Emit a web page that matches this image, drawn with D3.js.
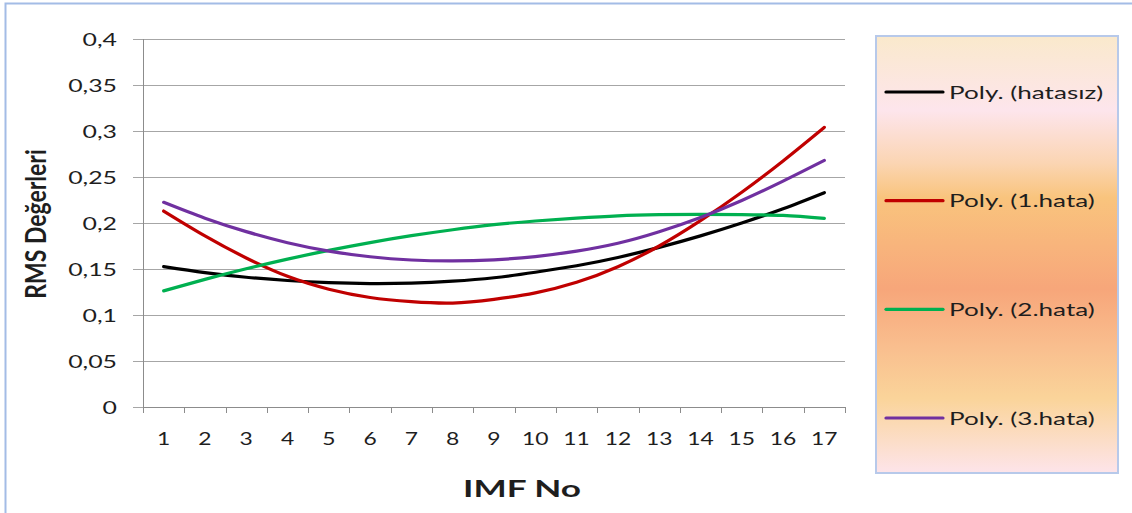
<!DOCTYPE html>
<html>
<head>
<meta charset="utf-8">
<script src="https://cdn.jsdelivr.net/npm/d3@7"></script>
<style>
  html, body { margin: 0; padding: 0; background: #fff; }
  svg { display: block; }
  text { font-family: Lato, "Open Sans", sans-serif; fill: #1e1e1e; }
</style>
</head>
<body>
<svg id="chart" width="1132" height="513"></svg>
<script>
// IMF numbers on the x axis
const categories = ["1","2","3","4","5","6","7","8","9","10","11","12","13","14","15","16","17"];

// Polynomial trend values of the RMS per IMF, one array per case
const hatasiz = [0.1525,0.146,0.141,0.1375,0.1352,0.1342,0.1347,0.1368,0.1405,0.1465,0.1535,0.1625,0.1735,0.186,0.200,0.2155,0.233];
const hata1   = [0.213,0.186,0.162,0.142,0.128,0.119,0.1145,0.113,0.117,0.124,0.1355,0.1525,0.175,0.2025,0.2335,0.2675,0.304];
const hata2   = [0.1262,0.1387,0.1502,0.1607,0.1702,0.1787,0.1862,0.1927,0.1982,0.2022,0.2053,0.2078,0.209,0.2094,0.2092,0.2082,0.205];
const hata3   = [0.2225,0.2052,0.1906,0.1786,0.1695,0.1633,0.1598,0.1588,0.160,0.1635,0.1695,0.178,0.1905,0.206,0.2245,0.2455,0.268];

const seriesNames  = ["Poly. (hatasız)", "Poly. (1.hata)", "Poly. (2.hata)", "Poly. (3.hata)"];
const seriesColors = ["#000000", "#c00000", "#00b050", "#7030a0"];

// y axis ticks and their labels (comma as decimal separator)
const yTickValues = [0, 0.05, 0.1, 0.15, 0.2, 0.25, 0.3, 0.35, 0.4];
const yTickLabels = ["0", "0,05", "0,1", "0,15", "0,2", "0,25", "0,3", "0,35", "0,4"];

const xTitle = "IMF No";
const yTitle = "RMS Değerleri";

const series = [hatasiz, hata1, hata2, hata3].map((values, i) => ({
  name: seriesNames[i], color: seriesColors[i], values
}));

const svg = d3.select("#chart");
const SX = 1.38; // horizontal widening of the lettering

// outer chart frame
svg.append("rect")
  .attr("x", 5.5).attr("y", 3.5).attr("width", 1200).attr("height", 600)
  .attr("fill", "#fff").attr("stroke", "#a3bce6").attr("stroke-width", 2);

const plot = { left: 143, right: 845, top: 39, bottom: 407 };

const x = d3.scaleBand().domain(categories).range([plot.left, plot.right]).paddingInner(0).paddingOuter(0);
const y = d3.scaleLinear().domain([0, 0.4]).range([plot.bottom, plot.top]);
const cx = c => x(c) + x.bandwidth() / 2;

function label(parent, px, py, str, anchor, size, weight, sx, sy) {
  const g = parent.append("g").attr("transform", `translate(${px},${py}) scale(${sx},${sy || 1})`);
  g.append("text")
    .attr("text-anchor", anchor)
    .attr("font-size", size)
    .attr("font-weight", weight || "normal")
    .text(str);
  return g;
}

// horizontal gridlines, extending left of the axis as tick marks
svg.append("g").selectAll("line")
  .data(yTickValues)
  .join("line")
  .attr("x1", plot.left - 10).attr("x2", plot.right)
  .attr("y1", d => Math.round(y(d)) + 0.5).attr("y2", d => Math.round(y(d)) + 0.5)
  .attr("stroke", "#a6a6a6").attr("stroke-width", 1);

// y axis line
svg.append("line")
  .attr("x1", plot.left + 0.5).attr("x2", plot.left + 0.5)
  .attr("y1", y(0.4)).attr("y2", y(0) + 0.5)
  .attr("stroke", "#8c8c8c").attr("stroke-width", 1);

// x axis line and tick marks at category boundaries
svg.append("line")
  .attr("x1", plot.left).attr("x2", plot.right)
  .attr("y1", Math.round(y(0)) + 0.5).attr("y2", Math.round(y(0)) + 0.5)
  .attr("stroke", "#8c8c8c").attr("stroke-width", 1);
const boundaries = categories.map(c => x(c)).concat([plot.right]);
svg.append("g").selectAll("line")
  .data(boundaries)
  .join("line")
  .attr("x1", d => Math.round(d) + 0.5).attr("x2", d => Math.round(d) + 0.5)
  .attr("y1", y(0)).attr("y2", y(0) + 6)
  .attr("stroke", "#8c8c8c").attr("stroke-width", 1);

// y tick labels
const yLab = svg.append("g");
yTickValues.forEach((v, i) => label(yLab, 117, y(v) + 6.5, yTickLabels[i], "end", 18, "normal", SX));

// x tick labels
const xLab = svg.append("g");
categories.forEach(c => label(xLab, cx(c), 445, c, "middle", 18, "normal", SX * 0.92));

// axis titles
label(svg, 522, 497, xTitle, "middle", 22, "bold", 1.6);
const yt = svg.append("g").attr("transform", "translate(46,224) rotate(-90)");
label(yt, 0, 0, yTitle, "middle", 23, "bold", 1, 1.2);

// trend curves
const line = d3.line()
  .x((d, i) => cx(categories[i]))
  .y(d => y(d))
  .curve(d3.curveNatural);

svg.append("g").selectAll("path")
  .data(series)
  .join("path")
  .attr("d", d => line(d.values))
  .attr("fill", "none")
  .attr("stroke", d => d.color)
  .attr("stroke-width", 3.2)
  .attr("stroke-linecap", "round")
  .attr("stroke-linejoin", "round");

// legend box with vertical gradient fill
const defs = svg.append("defs");
const grad = defs.append("linearGradient").attr("id", "legendFill")
  .attr("x1", 0).attr("y1", 0).attr("x2", 0).attr("y2", 1);
[
  [0.00, "#fae9cc"],
  [0.17, "#fde5ec"],
  [0.29, "#fbd5b3"],
  [0.37, "#f9c47d"],
  [0.48, "#f8b47c"],
  [0.58, "#f7a67a"],
  [0.71, "#f9be8e"],
  [0.83, "#fad49a"],
  [1.00, "#fde4ea"]
].forEach(([o, c]) => grad.append("stop").attr("offset", o).attr("stop-color", c));

const legend = { x: 876, y: 36, w: 242, h: 437 };
svg.append("rect")
  .attr("x", legend.x).attr("y", legend.y).attr("width", legend.w).attr("height", legend.h)
  .attr("fill", "url(#legendFill)")
  .attr("stroke", "#b7c9ea").attr("stroke-width", 2);

const legendY = d3.scalePoint().domain(seriesNames).range([92, 418]);
const lg = svg.append("g");
series.forEach(s => {
  const ly = legendY(s.name);
  lg.append("line")
    .attr("x1", 886).attr("x2", 943).attr("y1", ly).attr("y2", ly)
    .attr("stroke", s.color).attr("stroke-width", 3.2).attr("stroke-linecap", "round");
  label(lg, 949, ly + 6.5, s.name, "start", 18, "normal", 1.45);
});
</script>
</body>
</html>
